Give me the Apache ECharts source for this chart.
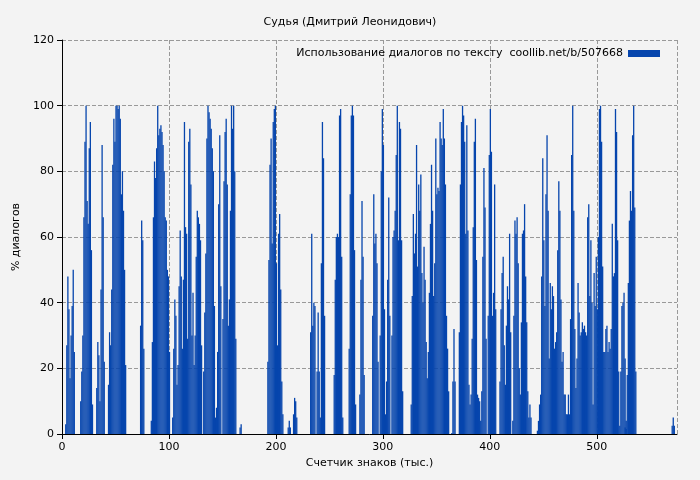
<!DOCTYPE html>
<html><head><meta charset="utf-8">
<script src="https://cdn.jsdelivr.net/npm/echarts@6/dist/echarts.min.js"></script>
<style>html,body{margin:0;padding:0;background:#f3f3f3}#c{width:700px;height:480px}</style>
</head><body><div id="c"></div>
<script>
const title = "Судья (Дмитрий Леонидович)";
const seriesName = "Использование диалогов по тексту  coollib.net/b/507668";
const xTitle = "Счетчик знаков (тыс.)";
const yTitle = "% диалогов";
const runStarts = [3,17,32,43,73,83,103,132,150,166,192,211,216,232,254,268,278,290,326,364,371,398,409,421,444,526,570];
const runValues = [
 [3,27,48,38,17,30,39,50,25],
 [10,19,30,66,89,100,71,64,87,95,56,9],
 [14,28,24,10,44,88,66,22],
 [15,31,27,44,82,96,89,100,100,99,100,96,73,80,68,50,21],
 [33,65,59,26],
 [4,28,66,83,78,87,100,91,93,94,92,88,80,66,65,50,48,25],
 [5,26,41,36,15,21,45,62,48,26,47,95,63,61,29,89,93,76,30,43,21,30,54,68,66,64,59,27],
 [19,37,55,90,100,98,96,93,87,80,39,5,8,25,70,91,45],
 [35,77,92,96,76,33,41,68,100,93,100,80,29],
 [2,3],
 [22,53,82,90,58,95,99,100,52,27,61,67,44,16,6],
 [2,4,2],
 [6,11,10,5],
 [31,61,33,40,39,0,19,37,19,5,52,95,84,36],
 [18,47,60,61,60,97,99,54,5],
 [26,73,97,100,97,56,9],
 [12,47,71,54,18],
 [36,73,58,61,52,22,0,30,80,99,88,38,6,16,47,72,36,0,30,60,62,68,85,100,59,95,93,59,13],
 [9,42,67,55,61,88,51,76,68,79,49,40,57,47,28,17,25,43,64,82,68,42,52,90,73,75,74,95,90,88,99,90,76,36,26,13],
 [0.3,16,32,16],
 [31,76,95,100,97,89,61,94,62,15,9,12,29,63,89,96,53,12,11,10,4,13,54,81,69,29],
 [36,85,99,86,36,43,76,38],
 [16,38,49,54,27,15,33,45,41,61,31],
 [4,36,65,61,66,52,20,12,34,61,62,70,48,34,13,5,9,5],
 [1,4,9,12,48,84,59,39,73,91,68,23,46,38,45,42,26,28,31,56,77,68,41,22,25,12,12,6,6,12,6,35,85,100,68,32,14,23,46,37,30,31,34,32,33,31,30,66,70,42,59,40,9,49,39,54,38,60,99,100,89,51,25,25,32,33,25,28,26,32,64,48,49,99,92,59,19,2.5,19,39,40,43,23,1.5],
 [2,4,18,46,65,74,68,91,100,69,19],
 [2.5,5,2.5]
];
const data = [];
runStarts.forEach((s,i)=>runValues[i].forEach((v,j)=>data.push([s+j+0.5,v])));
const font = "DejaVu Sans";
const chart = echarts.init(document.getElementById('c'));
chart.setOption({
  backgroundColor:'#f3f3f3',
  animation:false,
  textStyle:{fontFamily:font},
  title:{text:title,left:'center',top:12,textStyle:{fontSize:11,fontWeight:'normal',color:'#000',fontFamily:font}},
  legend:{top:43,right:35,align:'right',icon:'rect',itemWidth:32,itemHeight:7,textStyle:{fontSize:11,color:'#000',fontFamily:font},data:[seriesName]},
  grid:{left:62,right:23,top:40,bottom:46},
  xAxis:{type:'value',min:0,max:575,interval:100,name:xTitle,nameLocation:'middle',nameGap:24,
    nameTextStyle:{fontSize:11,color:'#000'},
    axisLine:{lineStyle:{color:'#000'}},axisTick:{lineStyle:{color:'#000'}},
    axisLabel:{fontSize:11,color:'#000',showMaxLabel:false},
    splitLine:{show:true,lineStyle:{type:'dashed',color:'#999'}}},
  yAxis:{type:'value',min:0,max:120,interval:20,name:yTitle,nameLocation:'middle',nameGap:40,
    nameTextStyle:{fontSize:11,color:'#000'},
    axisLine:{show:true,lineStyle:{color:'#000'}},axisTick:{show:true,lineStyle:{color:'#000'}},
    axisLabel:{fontSize:11,color:'#000'},
    splitLine:{show:true,lineStyle:{type:'dashed',color:'#999'}}},
  series:[{name:seriesName,type:'bar',data:data,barWidth:1.3,itemStyle:{color:'#0645ad'},large:false}]
});
</script></body></html>
